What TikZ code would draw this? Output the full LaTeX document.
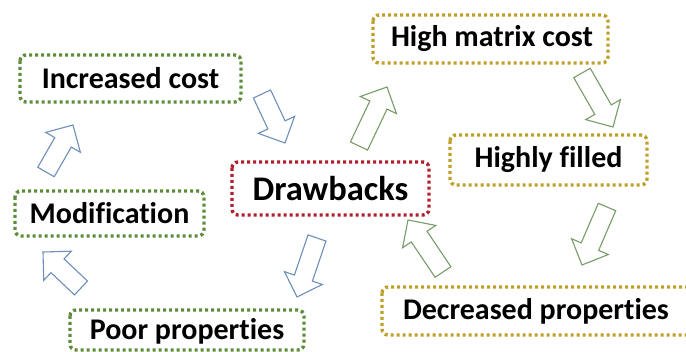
\documentclass[tikz,border=0pt]{standalone}
\usepackage{fontspec}
\setmainfont{Carlito}[Ligatures=NoCommon]
\usetikzlibrary{calc}
\definecolor{dgreen}{HTML}{5E8C3A}
\definecolor{dgold}{HTML}{BFA02A}
\definecolor{dred}{HTML}{B0202E}
\definecolor{ablue}{HTML}{6D8FBA}
\definecolor{agreen}{HTML}{789B68}
\tikzset{
  boxline/.style={line width=3.4pt, dash pattern=on 3pt off 3pt, rounded corners=6pt},
  lbl/.style={font=\bfseries\fontsize{30}{32}\selectfont, text=black},
  arrline/.style={line width=1.1pt, line join=miter, fill=white}
}
\newcommand{\blockarr}[3]{%
  \coordinate (#2#3c) at ($(#3)!20pt!(#2)$);
  \draw[draw=#1,arrline] ($(#2)!9.5pt!90:(#3)$) -- ($(#2#3c)!9.5pt!90:(#3)$) -- ($(#2#3c)!20pt!90:(#3)$) -- (#3)
    -- ($(#2#3c)!20pt!-90:(#3)$) -- ($(#2#3c)!9.5pt!-90:(#3)$) -- ($(#2)!9.5pt!-90:(#3)$) -- cycle;}
\begin{document}
\begin{tikzpicture}[x=1pt,y=-1pt]
\useasboundingbox (0,0) rectangle (686,352);
\clip (0,0) rectangle (686,352);
\fill[white] (0,0) rectangle (686,352);
% boxes
\draw[boxline,dgreen] (20,55) rectangle (241,102);
\node[lbl] (inc) at (130.5,78.5) {Increased cost};
\draw[boxline,dred] (232,162) rectangle (429,215);
\node[lbl,font=\bfseries\fontsize{34.5}{36}\selectfont] (draw) at (330.5,188.5) {Drawbacks};
\draw[boxline,dgold] (373,15) rectangle (608,63);
\node[lbl] (hmc) at (492,39) {High matrix cost};
\draw[boxline,dgold] (450,135) rectangle (647,185);
\node[lbl] (hf) at (548.5,160) {Highly filled};
\draw[boxline,dgold] (382,287) rectangle (692,335);
\node[lbl] (dp) at (536,311) {Decreased properties};
\draw[boxline,dgreen] (15,191) rectangle (204,236);
\node[lbl] (mod) at (109.5,213.5) {Modification};
\draw[boxline,dgreen] (70,310) rectangle (304,350);
\node[lbl] (pp) at (187,331) {Poor properties};
% arrow ends
\coordinate (a1t) at (262,94);  \coordinate (a1h) at (285,143);
\coordinate (a2t) at (359,146); \coordinate (a2h) at (387,87);
\coordinate (a3t) at (582,73);  \coordinate (a3h) at (613,127);
\coordinate (a4t) at (607,207); \coordinate (a4h) at (582,265);
\coordinate (a5t) at (443,272); \coordinate (a5h) at (408,220);
\coordinate (a6t) at (317,238); \coordinate (a6h) at (297,297);
\coordinate (a7t) at (81,288);  \coordinate (a7h) at (43,252);
\coordinate (a8t) at (46,172);  \coordinate (a8h) at (73,125);
\blockarr{ablue}{a1t}{a1h}
\blockarr{agreen}{a2t}{a2h}
\blockarr{agreen}{a3t}{a3h}
\blockarr{agreen}{a4t}{a4h}
\blockarr{agreen}{a5t}{a5h}
\blockarr{ablue}{a6t}{a6h}
\blockarr{ablue}{a7t}{a7h}
\blockarr{ablue}{a8t}{a8h}
\end{tikzpicture}
\end{document}
